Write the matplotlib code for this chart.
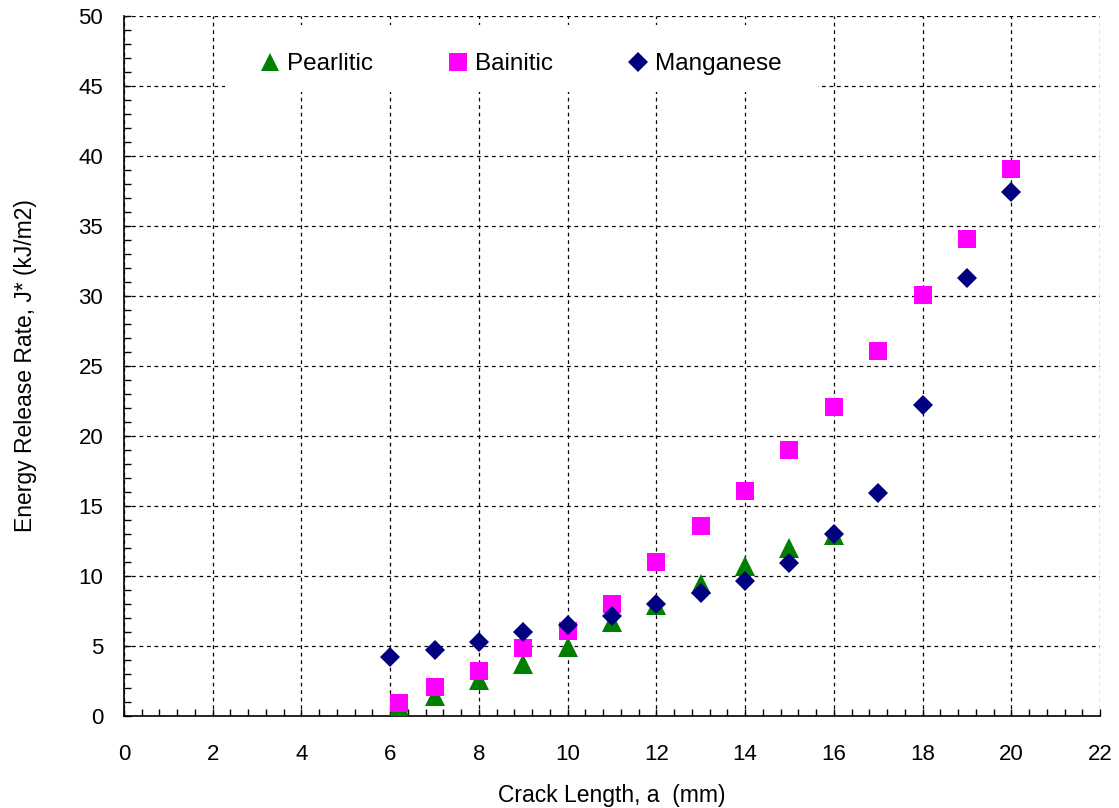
import matplotlib
matplotlib.use("Agg")
import matplotlib.pyplot as plt
from matplotlib.ticker import MultipleLocator
from matplotlib.patches import Rectangle

plt.rcParams['font.family'] = ['Liberation Sans', 'DejaVu Sans']

# Data
pearlitic_x = [6.2, 7, 8, 9, 10, 11, 12, 13, 14, 15, 16]
pearlitic_y = [0.7, 1.4, 2.6, 3.7, 4.9, 6.7, 7.9, 9.4, 10.7, 12.0, 12.9]

bainitic_x = [6.2, 7, 8, 9, 10, 11, 12, 13, 14, 15, 16, 17, 18, 19, 20]
bainitic_y = [0.95, 2.1, 3.2, 4.85, 6.07, 8.0, 11.0, 13.55, 16.05, 19.0, 22.1, 26.1, 30.07, 34.07, 39.1]

manganese_x = [6, 7, 8, 9, 10, 11, 12, 13, 14, 15, 16, 17, 18, 19, 20]
manganese_y = [4.2, 4.7, 5.3, 6.0, 6.5, 7.15, 8.0, 8.8, 9.65, 10.95, 13.0, 15.9, 22.2, 31.3, 37.45]

x_label = "Crack Length, a  (mm)"
y_label = "Energy Release Rate, J* (kJ/m2)"

fig = plt.figure(figsize=(11.19, 8.08), dpi=100)
ax = fig.add_axes([124/1119, 1-716/808, (1100-124)/1119, (716-16)/808])

ax.plot(pearlitic_x, pearlitic_y, linestyle='none', marker='^', color='#008000',
        markersize=14, markeredgewidth=0, label='Pearlitic', zorder=3)
ax.plot(bainitic_x, bainitic_y, linestyle='none', marker='s', color='#FF00FF',
        markersize=13, markeredgewidth=0, label='Bainitic', zorder=4)
ax.plot(manganese_x, manganese_y, linestyle='none', marker='D', color='#000080',
        markersize=10.5, markeredgewidth=0, label='Manganese', zorder=5)

ax.set_xlim(0, 22)
ax.set_ylim(0, 50)
ax.xaxis.set_major_locator(MultipleLocator(2))
ax.xaxis.set_minor_locator(MultipleLocator(0.4))
ax.yaxis.set_major_locator(MultipleLocator(5))
ax.yaxis.set_minor_locator(MultipleLocator(1))

ax.grid(True, which='major', color='black', linestyle=(0, (3, 3)), linewidth=0.9)
ax.set_axisbelow(True)
for s in ['top', 'right']:
    ax.spines[s].set_visible(False)
for s in ['left', 'bottom']:
    ax.spines[s].set_linewidth(1.2)

ax.tick_params(which='both', direction='in', length=5, width=1, labelsize=16)
ax.tick_params(axis='x', pad=20)
ax.tick_params(axis='y', pad=15)

ax.set_xlabel(x_label, fontsize=16.5, labelpad=14)
ax.set_ylabel(y_label, fontsize=16.5, labelpad=30)

# white legend background area (covers grid)
ax.add_patch(Rectangle((0.1035, 0.891), 0.6075, 0.096, transform=ax.transAxes,
                       facecolor='white', edgecolor='none', zorder=2))

leg = ax.legend(ncol=3, loc='center left', bbox_to_anchor=(0.1393, 0.931),
                frameon=False, fontsize=17.5, handletextpad=0.3, columnspacing=3.1,
                handlelength=0.8, borderpad=0, borderaxespad=0, markerscale=0.95)
leg.set_zorder(6)

fig.savefig("out.png", dpi=100)
